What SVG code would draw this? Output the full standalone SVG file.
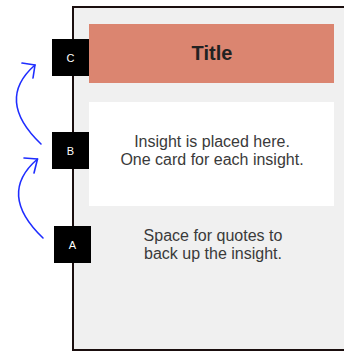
<svg xmlns="http://www.w3.org/2000/svg" width="344" height="353" viewBox="0 0 344 353">
  <style>
    .body { font-family: "Liberation Sans", Arial, sans-serif; font-size: 16px; fill: #3a3a3a; text-anchor: middle; }
    .title { font-family: "Liberation Sans", Arial, sans-serif; font-size: 20px; font-weight: bold; fill: #222222; text-anchor: middle; }
    .tag { fill: #000000; }
    .tag-text { font-family: "Liberation Sans", Arial, sans-serif; font-size: 11px; fill: #ffffff; text-anchor: middle; }
    .curve { fill: none; stroke: #1f2dff; stroke-width: 1.6; stroke-linecap: round; stroke-linejoin: round; }
  </style>
  <rect width="344" height="353" fill="#ffffff"/>

  <!-- board -->
  <g id="board">
    <rect x="73" y="7" width="290" height="343" fill="#f0f0f0" stroke="#1a0e0e" stroke-width="2"/>
  </g>

  <!-- title bar -->
  <g id="title">
    <rect x="89" y="24" width="245" height="59" fill="#db8570"/>
    <text class="title" x="212" y="60">Title</text>
  </g>

  <!-- insight card -->
  <g id="insight">
    <rect x="89" y="102" width="245" height="104" fill="#ffffff"/>
    <text class="body" x="212" y="147">Insight is placed here.</text>
    <text class="body" x="212" y="165">One card for each insight.</text>
  </g>

  <!-- quotes area -->
  <g id="quotes">
    <text class="body" x="213" y="241">Space for quotes to</text>
    <text class="body" x="213" y="259">back up the insight.</text>
  </g>

  <!-- section tags -->
  <g id="tag-c">
    <rect class="tag" x="52" y="39" width="37" height="37"/>
    <text class="tag-text" x="70.5" y="61.5">C</text>
  </g>
  <g id="tag-b">
    <rect class="tag" x="52" y="132" width="37" height="37"/>
    <text class="tag-text" x="70.5" y="154.5">B</text>
  </g>
  <g id="tag-a">
    <rect class="tag" x="54" y="226" width="37" height="37"/>
    <text class="tag-text" x="72.5" y="248.5">A</text>
  </g>

  <!-- connectors -->
  <g id="connectors">
    <path class="curve" d="M41,144 Q-5,100 35,65"/>
    <path class="curve" d="M22,63 L35,65 L33,78"/>
    <path class="curve" d="M43,238 Q-3,194 37.5,159"/>
    <path class="curve" d="M24,158 L37.5,159 L34,173"/>
  </g>
</svg>
